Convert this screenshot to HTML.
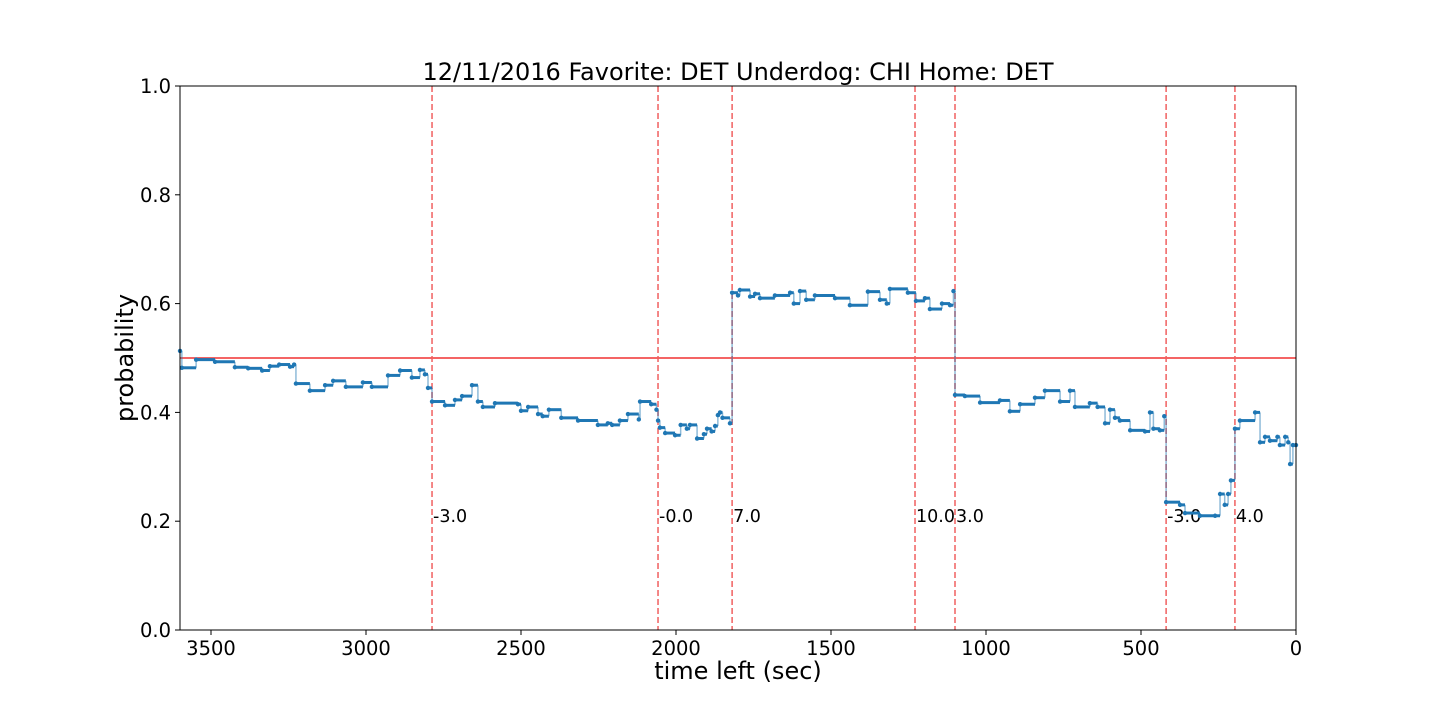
<!DOCTYPE html>
<html><head><meta charset="utf-8"><style>
body{margin:0;background:#fff;}
svg text{font-family:"DejaVu Sans","Liberation Sans",sans-serif;fill:#000;}
</style></head><body>
<svg id="chart" width="1440" height="720" viewBox="0 0 1440 720" xmlns="http://www.w3.org/2000/svg">
<text x="738" y="80" font-size="24" text-anchor="middle">12/11/2016 Favorite: DET Underdog: CHI Home: DET</text>
<g id="plot"></g>
<rect x="180" y="86" width="1116" height="544" fill="none" stroke="#000" stroke-width="1"/>
<text x="738" y="679" font-size="24" text-anchor="middle">time left (sec)</text>
<text transform="translate(133,358) rotate(-90)" font-size="24" text-anchor="middle">probability</text>
</svg>
<script>
const xTicks=[3500,3000,2500,2000,1500,1000,500,0];
const yTicks=[0,0.2,0.4,0.6,0.8,1.0];
const yTickLabels=["0.0","0.2","0.4","0.6","0.8","1.0"];
const eventTimes=[2787,2058,1819,1229,1100,419,197];
const eventLabels=["-3.0","-0.0","7.0","10.0","3.0","-3.0","4.0"];
const times=[3600,3594,3548,3487,3423,3380,3335,3310,3280,3245,3232,3226,3181,3132,3106,3065,3010,2981,2929,2890,2852,2826,2810,2800,2787,2745,2713,2690,2658,2639,2623,2584,2510,2500,2477,2445,2430,2410,2370,2316,2252,2220,2206,2181,2155,2120,2116,2080,2063,2058,2052,2035,2003,1985,1965,1955,1932,1910,1900,1885,1874,1865,1858,1850,1826,1819,1800,1794,1761,1745,1729,1681,1632,1620,1600,1580,1552,1487,1439,1381,1342,1320,1310,1252,1226,1197,1181,1142,1116,1105,1100,1068,1019,955,923,890,842,810,761,729,713,665,640,616,600,584,568,535,487,471,460,439,425,419,374,358,310,261,245,230,219,210,197,181,132,116,100,84,60,52,35,25,19,10,0];
const probs=[.513,.482,.497,.493,.483,.481,.477,.485,.488,.484,.488,.453,.44,.45,.458,.447,.455,.447,.468,.477,.464,.478,.47,.445,.42,.413,.423,.43,.45,.42,.41,.417,.415,.403,.41,.397,.393,.405,.39,.385,.377,.38,.377,.385,.397,.387,.42,.415,.405,.385,.372,.362,.358,.377,.37,.377,.352,.36,.37,.365,.375,.395,.4,.39,.38,.62,.615,.625,.613,.618,.61,.615,.62,.6,.623,.607,.615,.61,.597,.622,.607,.6,.627,.62,.605,.61,.59,.6,.597,.623,.432,.43,.418,.422,.402,.415,.427,.44,.42,.44,.41,.417,.41,.38,.405,.39,.385,.367,.365,.4,.37,.367,.393,.235,.23,.215,.21,.21,.25,.23,.25,.275,.37,.385,.4,.345,.355,.348,.355,.34,.355,.345,.305,.34,.34];
const X=t=>180+(3600-t)*1116/3600;
const Y=p=>630-p*544;
const NS="http://www.w3.org/2000/svg";
const svg=document.getElementById('chart');
const g=document.getElementById('plot');
function mk(tag,attrs,parent){const e=document.createElementNS(NS,tag);for(const k in attrs)e.setAttribute(k,attrs[k]);(parent||g).appendChild(e);return e;}
xTicks.forEach(t=>{
 const l=mk('line',{x1:X(t),x2:X(t),y1:630,y2:635,stroke:'#000'},svg);
 
 
 const tx=mk('text',{x:X(t),y:655,'font-size':19.5,'text-anchor':'middle'},svg);tx.textContent=t;
 
 
});
yTicks.forEach((v,i)=>{
 const l=mk('line',{x1:175,x2:180,y1:Y(v),y2:Y(v),stroke:'#000'},svg);
 
 
 const tx=mk('text',{x:171,y:Y(v)+7,'font-size':19.5,'text-anchor':'end'},svg);tx.textContent=yTickLabels[i];
 
 
});
const h=mk('line',{x1:180,x2:1296,y1:Y(0.5),y2:Y(0.5),stroke:'#f03030','stroke-width':1.6});


eventTimes.forEach((t,i)=>{
 const l=mk('line',{x1:X(t),x2:X(t),y1:86,y2:630,stroke:'#f06060','stroke-width':1.5,'stroke-dasharray':'6,3'});
 
 
 const tx=mk('text',{x:X(t)+1,y:Y(0.21)+6,'font-size':17.5},g);tx.textContent=eventLabels[i];
 
 
});
for(let i=0;i<times.length-1;i++){
 const x1=X(times[i]),x2=X(times[i+1]),y=Y(probs[i]),y2=Y(probs[i+1]);
 const hs=mk('line',{x1:x1,x2:x2,y1:y,y2:y,stroke:'#1f77b4','stroke-width':3});
 
 
 const vs=mk('line',{x1:x2,x2:x2,y1:y,y2:y2,stroke:'#1f77b4','stroke-width':1.5,'stroke-opacity':0.5});
 
 
}
times.forEach((t,i)=>{
 const c=mk('circle',{cx:X(t),cy:Y(probs[i]),r:2.2,fill:'#1f77b4'});
 
 
});
</script>
</body></html>
